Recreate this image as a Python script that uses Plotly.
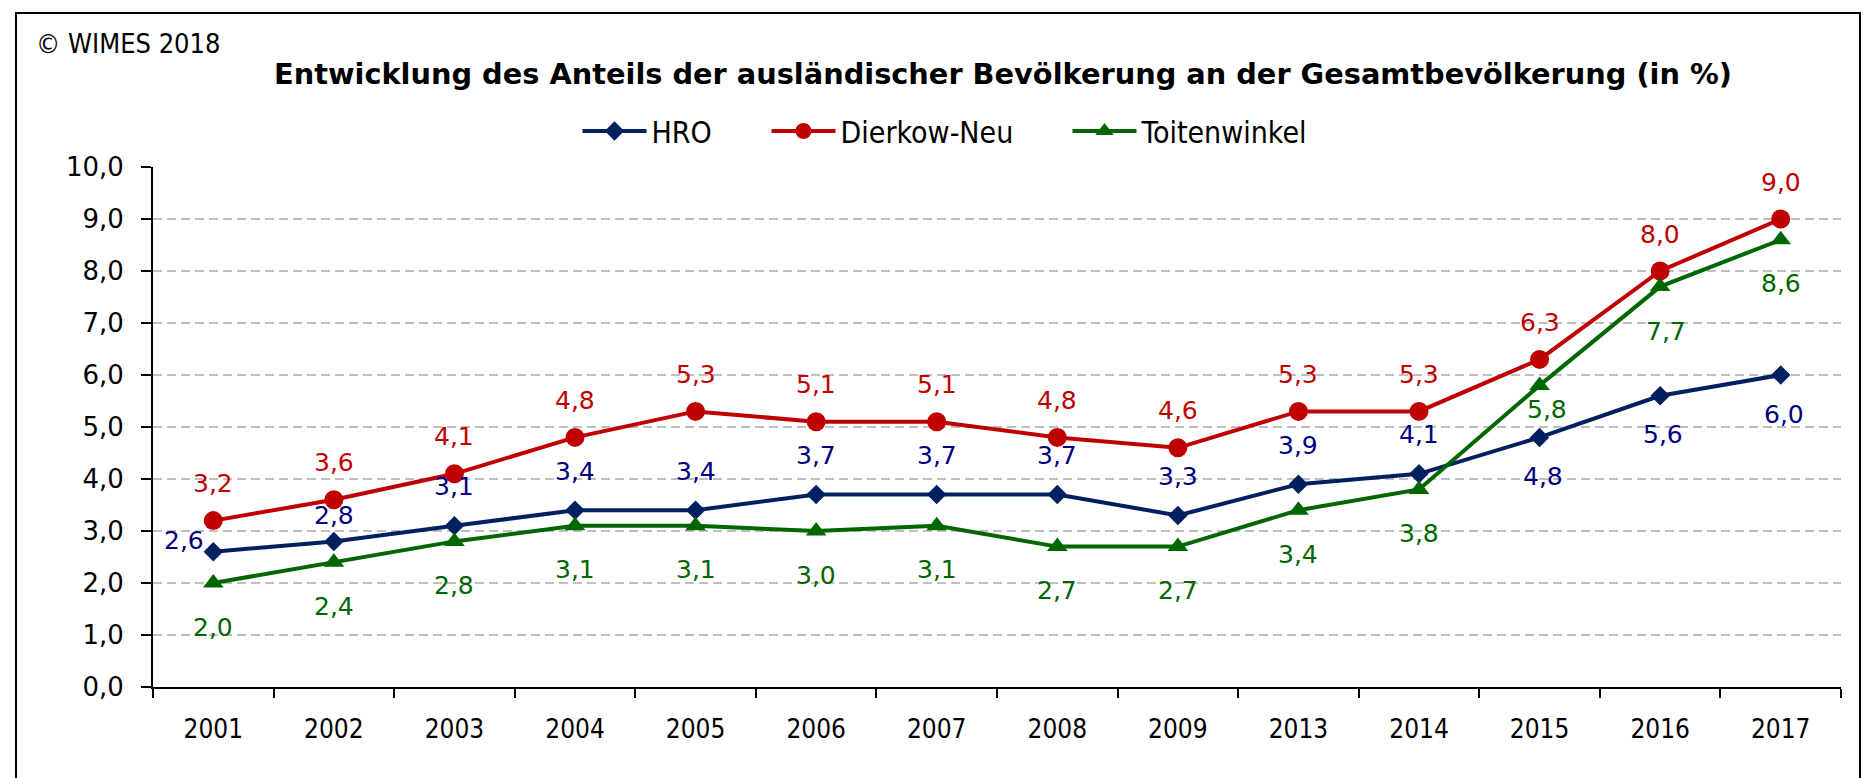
import plotly.graph_objects as go

# ---------------- data ----------------
years = ["2001", "2002", "2003", "2004", "2005", "2006", "2007",
         "2008", "2009", "2013", "2014", "2015", "2016", "2017"]
hro = [2.6, 2.8, 3.1, 3.4, 3.4, 3.7, 3.7, 3.7, 3.3, 3.9, 4.1, 4.8, 5.6, 6.0]
dierkow = [3.2, 3.6, 4.1, 4.8, 5.3, 5.1, 5.1, 4.8, 4.6, 5.3, 5.3, 6.3, 8.0, 9.0]
toiten = [2.0, 2.4, 2.8, 3.1, 3.1, 3.0, 3.1, 2.7, 2.7, 3.4, 3.8, 5.8, 7.7, 8.6]
series_names = ["HRO", "Dierkow-Neu", "Toitenwinkel"]
y_ticks = [0, 1, 2, 3, 4, 5, 6, 7, 8, 9, 10]

title_text = "Entwicklung des Anteils der ausländischer Bevölkerung an der Gesamtbevölkerung (in %)"
copyright_text = "© WIMES 2018"

# label placement (style, not data)
hro_place = ["left"] + ["above_low"] + ["above_b"] * 9 + ["below_b"] * 3
dierkow_place = ["above"] * 14
toiten_place = ["below"] * 11 + ["below_near"] + ["below_r"] + ["below"]

# ---------------- layout geometry ----------------
# the page body has an 8 px default margin; work in page pixels
OFF = 8
PAGE_W, PAGE_H = 1870, 778
W, H = PAGE_W - OFF, PAGE_H - OFF
PL, PR, PT, PB = 153, 1841, 167, 687        # plot area in page pixels
ML, MR, MT, MB = PL - OFF, PAGE_W - PR, PT - OFF, PAGE_H - PB
PW = PR - PL
PH = PB - PT


def px_x(p):
    return (p - PL) / PW


def px_y(p):
    return (PB - p) / PH


C_HRO, C_DN, C_TW = "#002060", "#C00000", "#006600"
L_HRO, L_DN, L_TW = "#000080", "#C00000", "#006600"

FONT = "DejaVu Sans"
FONT_C = "DejaVu Sans Condensed"

fig = go.Figure()
fig.add_trace(go.Scatter(
    x=years, y=hro, name=series_names[0], mode="lines+markers",
    line=dict(color=C_HRO, width=4),
    marker=dict(symbol="diamond", size=15, color=C_HRO),
    legend="legend", showlegend=True))
fig.add_trace(go.Scatter(
    x=years, y=dierkow, name=series_names[1], mode="lines+markers",
    line=dict(color=C_DN, width=4),
    marker=dict(symbol="circle", size=19, color=C_DN),
    legend="legend2", showlegend=True))
fig.add_trace(go.Scatter(
    x=years, y=toiten, name=series_names[2], mode="lines+markers",
    line=dict(color=C_TW, width=4),
    marker=dict(symbol="triangle-up", size=18, color=C_TW),
    legend="legend3", showlegend=True))

shifts = {
    "above": (0, 37),
    "above_b": (0, 39),
    "above_low": (0, 26),
    "below_b": (3, -39),
    "below": (0, -44),
    "below_r": (6, -45),
    "below_near": (7, -24),
    "left": (-29, 11),
}

annotations = []
for vals, places, col in ((hro, hro_place, L_HRO),
                          (dierkow, dierkow_place, L_DN),
                          (toiten, toiten_place, L_TW)):
    for i, (v, pl) in enumerate(zip(vals, places)):
        dx, dy = shifts[pl]
        annotations.append(dict(
            x=i, y=v, xref="x", yref="y",
            text=f"{v:.1f}".replace(".", ","),
            showarrow=False, xshift=dx, yshift=dy,
            xanchor="center", yanchor="middle",
            font=dict(family=FONT, size=25, color=col)))

annotations.append(dict(
    x=px_x(34), y=px_y(44), xref="paper", yref="paper",
    text=copyright_text, showarrow=False, xanchor="left", yanchor="middle",
    font=dict(family=FONT_C, size=27, color="#000000")))

# frame around the chart
shapes = [dict(type="rect", xref="paper", yref="paper",
               x0=px_x(16), x1=px_x(1860), y0=px_y(830), y1=px_y(13),
               line=dict(color="#000000", width=2), fillcolor="rgba(0,0,0,0)",
               layer="below")]
# longer legend sample lines (Excel style)
for (a, b), col in (((585, 643), C_HRO), ((773, 833), C_DN), ((1073, 1135), C_TW)):
    shapes.append(dict(type="line", xref="paper", yref="paper",
                       x0=px_x(a), x1=px_x(b), y0=px_y(131), y1=px_y(131),
                       line=dict(color=col, width=4), layer="above"))

leg_common = dict(orientation="h", yanchor="middle", xanchor="left",
                  y=px_y(131), bgcolor="rgba(0,0,0,0)", borderwidth=0,
                  font=dict(family=FONT_C, size=30, color="#000000"),
                  itemwidth=64, visible=True)

fig.update_layout(
    width=W, height=H,
    showlegend=True,
    margin=dict(l=ML, r=MR, t=MT, b=MB, pad=0, autoexpand=False),
    paper_bgcolor="#FFFFFF", plot_bgcolor="#FFFFFF",
    separators=",.",
    title=dict(text=title_text, xref="container", x=(1003 - OFF) / W,
               xanchor="center", yref="container", y=1 - (74 - OFF) / H,
               yanchor="middle",
               font=dict(family=FONT, size=28.8, color="#000000", weight="bold")),
    legend=dict(x=px_x(577.5), **leg_common),
    legend2=dict(x=px_x(766.5), **leg_common),
    legend3=dict(x=px_x(1067.5), **leg_common),
    annotations=annotations,
    shapes=shapes,
    xaxis=dict(type="category", categoryorder="array", categoryarray=years,
               range=[-0.5, len(years) - 0.5], tickangle=0,
               showline=True, linecolor="#000000", linewidth=2,
               ticks="outside", tickson="boundaries", ticklen=9,
               tickwidth=2, tickcolor="#000000",
               showgrid=False, zeroline=False,
               tickfont=dict(family=FONT_C, size=26, color="#000000"),
               ticklabelstandoff=18, fixedrange=True),
    yaxis=dict(range=[0, 10], tickvals=y_ticks, tickformat=".1f",
               showline=True, linecolor="#000000", linewidth=2,
               ticks="outside", ticklen=10, tickwidth=2, tickcolor="#000000",
               showgrid=True, gridcolor="#BFBFBF", gridwidth=2,
               griddash="9px,5px", zeroline=False,
               tickfont=dict(family=FONT, size=26, color="#000000"),
               ticklabelstandoff=12, fixedrange=True),
)

fig.write_html("out.html")
